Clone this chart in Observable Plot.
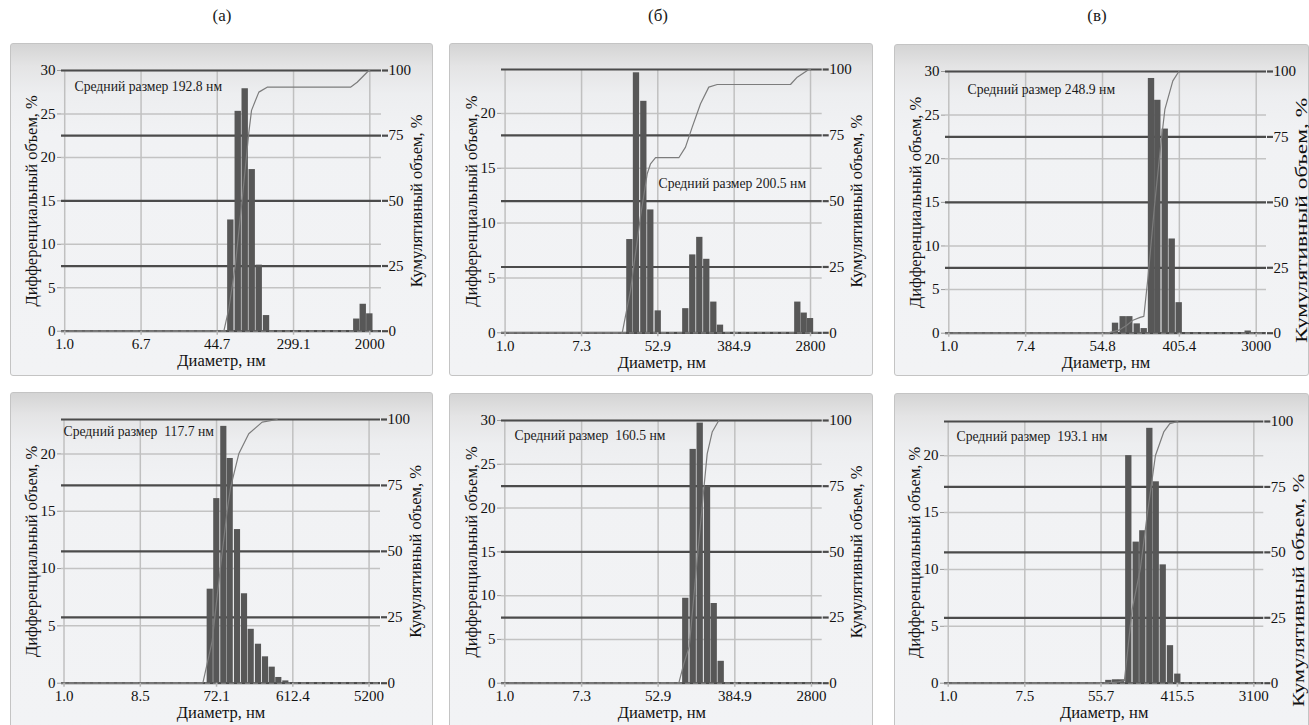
<!DOCTYPE html>
<html>
<head>
<meta charset="utf-8">
<script src="https://cdn.jsdelivr.net/npm/d3@7"></script>
<script src="https://cdn.jsdelivr.net/npm/@observablehq/plot@0.6"></script>
<style>
  html, body { margin: 0; padding: 0; background: #fff; }
  body { width: 1309px; height: 725px; overflow: hidden; position: relative; }
  body, .plab, svg.plot, svg.plot text { font-family: "Liberation Serif", "Times New Roman", "DejaVu Serif", serif !important; }
  .box { position: absolute; box-sizing: border-box; border: 1px solid #c4c4c4; border-radius: 3px;
         background: linear-gradient(to bottom, #d4d4d4 0px, #e4e4e5 22px, #edeef0 50px, #f1f2f4 90px, #f2f3f5 100%); }
  .plot { position: absolute; overflow: visible; }
  .plab { position: absolute; transform: translate(-50%, -50%); font-size: 17px; color: #1a1a1a; }
  svg text { white-space: pre; }
</style>
</head>
<body>
<script>
// ---------- texts ----------
const panelLabels = ["(а)", "(б)", "(в)"];
const xTitle = "Диаметр, нм";
const yTitleLeft = "Дифференциальный объем, %";
const yTitleRight = "Кумулятивный объем, %";
const cumTicks = [0, 25, 50, 75, 100];

// ---------- panel (а) top ----------
const a1XTicks = ["1.0", "6.7", "44.7", "299.1", "2000"];
const a1YTicks = [0, 5, 10, 15, 20, 25, 30];
const a1Diam = [62.7, 75.4, 89.7, 106.8, 127.2, 152.5, 1446, 1698, 2000];
const a1Vol  = [12.8, 25.3, 27.9, 18.6, 7.6, 1.8, 1.4, 3.1, 2.0];
const a1CumDiam = [1, 52.7, 59.6, 70, 84, 98, 105, 126, 155, 1236, 1460, 1950, 2000];
const a1Cum     = [0, 0, 8.6, 25, 52, 76, 84.7, 91.7, 93.6, 93.6, 95.5, 100, 100];
const a1Mean = "Средний размер 192.8 нм";

// ---------- panel (б) top ----------
const b1XTicks = ["1.0", "7.3", "52.9", "384.9", "2800"];
const b1YTicks = [0, 5, 10, 15, 20];
const b1Diam = [25.6, 30.4, 36.8, 44.1, 53.5, 109.5, 131.3, 157.6, 188.9, 226.8, 269.9, 2012, 2375, 2800];
const b1Vol  = [8.5, 23.7, 21.1, 11.2, 2.0, 2.2, 7.1, 8.7, 6.7, 2.8, 0.7, 2.8, 1.8, 1.3];
const b1CumDiam = [1, 21.0, 26, 33.7, 40.2, 43.8, 49.9, 91.4, 108.7, 129.4, 160.6, 199, 247.8, 1664, 1982, 2679, 2800];
const b1Cum     = [0, 0, 16, 44, 60.4, 64.2, 66.5, 66.5, 70.5, 78.1, 87, 93.3, 94.3, 94.3, 97.1, 100, 100];
const b1Mean = "Средний размер 200.5 нм";

// ---------- panel (в) top ----------
const c1XTicks = ["1.0", "7.4", "54.8", "405.4", "3000"];
const c1YTicks = [0, 5, 10, 15, 20, 25, 30];
const c1Diam = [76.9, 93.9, 111.5, 135.3, 162.3, 196.3, 231.2, 280.5, 336.5, 403.6, 2436];
const c1Vol  = [1.15, 1.9, 1.9, 1.07, 0.53, 29.2, 26.7, 23.4, 10.8, 3.5, 0.25];
const c1CumDiam = [1, 62, 84, 103, 121, 146, 160.7, 180, 214, 250, 278, 342, 400];
const c1Cum     = [0, 0, 1.15, 3.06, 4.97, 6.04, 6.4, 22, 50, 72, 85.5, 96.4, 100];
const c1Mean = "Средний размер 248.9 нм";

// ---------- panel (а) bottom ----------
const a2XTicks = ["1.0", "8.5", "72.1", "612.4", "5200"];
const a2YTicks = [0, 5, 10, 15, 20];
const a2Diam = [60.4, 72.6, 88.4, 105.8, 129.8, 158, 190.6, 233.8, 284.6, 343.6, 413.3, 503.5];
const a2Vol  = [8.2, 16.1, 22.4, 19.6, 13.4, 7.8, 4.7, 3.4, 2.3, 1.4, 0.5, 0.2];
const a2CumDiam = [1, 49.1, 63.8, 80.5, 97.2, 107, 134.6, 178, 259, 395];
const a2Cum     = [0, 0, 16, 44, 65.5, 74.3, 87, 94.6, 99, 100];
const a2Mean = "Средний размер  117.7 нм";

// ---------- panel (б) bottom ----------
const b2XTicks = ["1.0", "7.3", "52.9", "384.9", "2800"];
const b2YTicks = [0, 5, 10, 15, 20, 25, 30];
const b2Diam = [108.2, 131.1, 157.1, 189.8, 225.8, 270.5];
const b2Vol  = [9.7, 26.7, 29.7, 22.5, 9.1, 2.5];
const b2CumDiam = [1, 90.3, 102.8, 118.5, 143.5, 172.6, 188.2, 214.3, 254];
const b2Cum     = [0, 0, 7.4, 14, 45, 74, 87.3, 95.6, 100];
const b2Mean = "Средний размер  160.5 нм";

// ---------- panel (в) bottom ----------
const c2XTicks = ["1.0", "7.5", "55.7", "415.5", "3100"];
const c2YTicks = [0, 5, 10, 15, 20];
const c2Diam = [68.4, 81.5, 95.4, 115.6, 140.5, 167.2, 201, 237.8, 285.8, 346, 419.5];
const c2Vol  = [0.25, 0.3, 0.3, 20.0, 12.4, 13.4, 22.4, 17.7, 10.4, 3.3, 0.8];
const c2CumDiam = [1, 64, 74, 88, 103, 126, 157, 187, 233, 290, 340, 420];
const c2Cum     = [0, 0, 0.25, 0.55, 1, 28, 44, 64, 87, 96, 99.2, 100];
const c2Mean = "Средний размер  193.1 нм";

// ---------- layout (positions / sizes only) ----------
const panels = [
  {box:[10, 43, 423, 333],  m:[27, 52, 45.3, 51],  xd:[0.923, 2676], ymax:30, half:0.0345,
   xt:a1XTicks, yt:a1YTicks, diam:a1Diam, vol:a1Vol, cd:a1CumDiam, cv:a1Cum, mean:a1Mean, mdx:13, mdy:16,
   rtDy:0, rtS:1},
  {box:[449, 43, 424, 333], m:[26, 51.3, 43.7, 52], xd:[0.911, 3793], ymax:24, half:0.0355,
   xt:b1XTicks, yt:b1YTicks, diam:b1Diam, vol:b1Vol, cd:b1CumDiam, cv:b1Cum, mean:b1Mean, mdx:157, mdy:114,
   rtDy:0, rtS:1},
  {box:[894, 44, 415, 332], m:[27, 43, 43.3, 51],   xd:[0.918, 3922], ymax:30, half:0.036,
   xt:c1XTicks, yt:c1YTicks, diam:c1Diam, vol:c1Vol, cd:c1CumDiam, cv:c1Cum, mean:c1Mean, mdx:22, mdy:18,
   rtDy:18, rtS:1.42},
  {box:[10, 392, 423, 340], m:[27, 53, 49.3, 51],   xd:[0.932, 7164], ymax:23, half:0.0375,
   xt:a2XTicks, yt:a2YTicks, diam:a2Diam, vol:a2Vol, cd:a2CumDiam, cv:a2Cum, mean:a2Mean, mdx:2, mdy:12,
   rtDy:0, rtS:1},
  {box:[449, 393, 424, 340], m:[27, 51.3, 50.3, 52], xd:[0.918, 3694], ymax:30, half:0.0355,
   xt:b2XTicks, yt:b2YTicks, diam:b2Diam, vol:b2Vol, cd:b2CumDiam, cv:b2Cum, mean:b2Mean, mdx:13, mdy:15.5,
   rtDy:0, rtS:1},
  {box:[894, 393, 415, 340], m:[28, 45.7, 50.3, 50], xd:[0.907, 4029], ymax:23, half:0.036,
   xt:c2XTicks, yt:c2YTicks, diam:c2Diam, vol:c2Vol, cd:c2CumDiam, cv:c2Cum, mean:c2Mean, mdx:12, mdy:15,
   rtDy:38, rtS:1.35}
];
const labelPos = [[222, 16], [658, 16], [1097, 16]];

panelLabels.forEach((t, i) => {
  const d = document.createElement("div");
  d.className = "plab";
  d.style.left = labelPos[i][0] + "px";
  d.style.top = labelPos[i][1] + "px";
  d.textContent = t;
  document.body.append(d);
});

const FONT = '"Liberation Serif", "Times New Roman", "DejaVu Serif", serif';

function draw(p) {
  const k = p.ymax / 100;
  const r = Math.pow(10, p.half);
  const bars = p.diam.map((x, i) => ({x, v: p.vol[i]}));
  const cum = p.cd.map((x, i) => ({x, c: p.cv[i] * k}));
  const xticks = p.xt.map(s => ({v: Number(s), s}));
  const [bl, bt, bw, bh] = p.box;

  const box = document.createElement("div");
  box.className = "box";
  Object.assign(box.style, {left: bl + "px", top: bt + "px", width: bw + "px", height: bh + "px"});
  document.body.append(box);

  const svg = Plot.plot({
    width: bw, height: bh,
    marginTop: p.m[0], marginRight: p.m[1], marginBottom: p.m[2], marginLeft: p.m[3],
    style: {background: "transparent", fontFamily: FONT, fontSize: "15px", color: "#1a1a1a", overflow: "visible"},
    x: {type: "log", domain: p.xd},
    y: {domain: [0, p.ymax]},
    marks: [
      Plot.gridY(p.yt, {stroke: "#c3c3c3", strokeWidth: 1.5, strokeOpacity: 1}),
      Plot.gridX(xticks, {x: "v", stroke: "#c0c0c0", strokeWidth: 1.5, strokeOpacity: 1}),
      Plot.ruleY(cumTicks.map(t => t * k), {stroke: "#4b4b4b", strokeWidth: 2.2}),
      Plot.ruleY([0], {stroke: "#8c8c8c", strokeWidth: 1.3, strokeDasharray: "5,3"}),
      Plot.rectY(bars, {x1: d => d.x / r, x2: d => d.x * r, y1: 0, y2: "v", fill: "#575757"}),
      Plot.line(cum, {x: "x", y: "c", stroke: "#7c7c7c", strokeWidth: 1.2}),
      Plot.axisY(p.yt, {anchor: "left", tickSize: 4, tickPadding: 2, stroke: "#9a9a9a", fill: "#111", label: null, fontSize: 15}),
      Plot.axisY(cumTicks.map(t => t * k), {anchor: "right", tickSize: 6, tickPadding: 1, stroke: "#4b4b4b", strokeWidth: 2.2,
        fill: "#111", label: null, fontSize: 15, tickFormat: v => String(Math.round(v / k))}),
      Plot.axisX(xticks.map(d => d.v), {anchor: "bottom", tickSize: 4, stroke: "#b5b5b5",
        strokeWidth: 1.5, label: null, tickFormat: () => ""}),
      Plot.text(xticks, {x: "v", text: "s", frameAnchor: "bottom", dy: 13, lineAnchor: "middle", fontSize: 15, fill: "#111"}),
      Plot.text([p.mean], {text: d => d, frameAnchor: "top-left", dx: p.mdx, dy: p.mdy, textAnchor: "start",
        lineAnchor: "middle", fontSize: 13.7, fill: "#1a1a1a"}),
      Plot.text([xTitle], {text: d => d, frameAnchor: "bottom", dy: 30, textAnchor: "middle", lineAnchor: "middle", fontSize: 16.5, fill: "#111"}),
      Plot.text([yTitleLeft], {text: d => d, frameAnchor: "left", dx: -30, rotate: -90, textAnchor: "middle", lineAnchor: "middle", fontSize: 16.5, fill: "#111"}),
      Plot.text([yTitleRight], {text: d => d, frameAnchor: "right", dx: 35, dy: p.rtDy, rotate: -90, textAnchor: "middle", lineAnchor: "middle", fontSize: 16.5, fill: "#111"})
    ]
  });
  svg.classList.add("plot");
  svg.style.left = bl + "px";
  svg.style.top = bt + "px";
  if (p.rtS !== 1) {
    d3.select(svg).selectAll("text").filter(function () { return this.textContent === yTitleRight; })
      .each(function () {
        const t = this.getAttribute("transform") || "";
        this.setAttribute("transform", t + ` scale(${p.rtS},1)`);
      });
  }
  document.body.append(svg);
}

panels.forEach(draw);
</script>
</body>
</html>
